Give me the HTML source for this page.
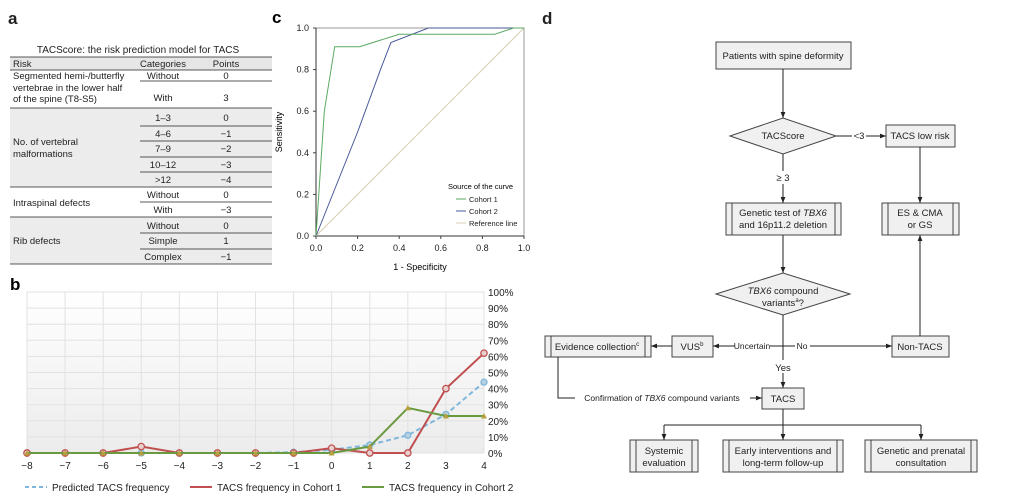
<!DOCTYPE html>
<html><head><meta charset="utf-8"><style>
body{margin:0;background:#fff}
svg{display:block;font-family:"Liberation Sans",Arial,sans-serif}
</style></head><body>
<svg id="s" width="1010" height="502" viewBox="0 0 1010 502" xmlns="http://www.w3.org/2000/svg">
<defs>
<linearGradient id="bg" x1="0" y1="0" x2="0" y2="1"><stop offset="0" stop-color="#fff"/><stop offset="1" stop-color="#ececec"/></linearGradient>
<marker id="ah" viewBox="0 0 10 10" refX="10" refY="5" markerWidth="6" markerHeight="6" orient="auto"><path d="M0,1L10,5L0,9z" fill="#222"/></marker>
</defs>

<!-- Panel a -->
<g font-size="9.5" fill="#222">
<text x="8" y="24" font-size="17" font-weight="bold">a</text>
<text x="138" y="53" text-anchor="middle" font-size="10">TACScore: the risk prediction model for TACS</text>
<rect x="10" y="57" width="262" height="13" fill="#e6e6e6"/>
<rect x="10" y="108" width="262" height="79" fill="#ececec"/>
<rect x="10" y="217" width="262" height="47" fill="#ececec"/>
<g stroke="#222" stroke-width="0.8">
<line x1="10" y1="57" x2="272" y2="57"/><line x1="10" y1="70" x2="272" y2="70"/>
<line x1="140" y1="81" x2="272" y2="81"/>
<line x1="10" y1="108" x2="272" y2="108"/>
<line x1="140" y1="126" x2="272" y2="126"/><line x1="140" y1="141" x2="272" y2="141"/><line x1="140" y1="157" x2="272" y2="157"/><line x1="140" y1="172" x2="272" y2="172"/>
<line x1="10" y1="187" x2="272" y2="187"/><line x1="140" y1="202" x2="272" y2="202"/>
<line x1="10" y1="217" x2="272" y2="217"/><line x1="140" y1="233" x2="272" y2="233"/><line x1="140" y1="249" x2="272" y2="249"/>
<line x1="10" y1="264" x2="272" y2="264"/>
</g>
<text x="13" y="67">Risk</text><text x="163" y="67" text-anchor="middle">Categories</text><text x="226" y="67" text-anchor="middle">Points</text>
<text x="13" y="79">Segmented hemi-/butterfly</text><text x="13" y="91">vertebrae in the lower half</text><text x="13" y="102">of the spine (T8-S5)</text>
<g text-anchor="middle">
<text x="163" y="79">Without</text><text x="226" y="79">0</text>
<text x="163" y="101">With</text><text x="226" y="101">3</text>
<text x="163" y="121">1–3</text><text x="226" y="121">0</text>
<text x="163" y="137">4–6</text><text x="226" y="137">−1</text>
<text x="163" y="152">7–9</text><text x="226" y="152">−2</text>
<text x="163" y="168">10–12</text><text x="226" y="168">−3</text>
<text x="163" y="183">&gt;12</text><text x="226" y="183">−4</text>
<text x="163" y="198">Without</text><text x="226" y="198">0</text>
<text x="163" y="213">With</text><text x="226" y="213">−3</text>
<text x="163" y="229">Without</text><text x="226" y="229">0</text>
<text x="163" y="244">Simple</text><text x="226" y="244">1</text>
<text x="163" y="260">Complex</text><text x="226" y="260">−1</text>
</g>
<text x="13" y="145">No. of vertebral</text><text x="13" y="157">malformations</text>
<text x="13" y="206">Intraspinal defects</text>
<text x="13" y="244">Rib defects</text>
</g>

<!-- Panel b -->
<g id="pb">
<text x="10" y="290" font-size="17" font-weight="bold">b</text>
<rect x="27" y="292" width="457" height="161" fill="url(#bg)"/>
</g>

<!-- Panel c -->
<g id="pc">
<text x="272" y="23" font-size="17" font-weight="bold">c</text>
<rect x="316" y="28" width="208" height="208" fill="none" stroke="#999" stroke-width="1"/>
<text x="282" y="132" font-size="9" text-anchor="middle" transform="rotate(-90 282 132)">Sensitivity</text>
<text x="420" y="270" font-size="9" text-anchor="middle">1 - Specificity</text>
<text x="448" y="189" font-size="7.5">Source of the curve</text>
</g>

<!-- Panel d -->
<g font-size="9.5" fill="#222" text-anchor="middle">
<text x="542" y="24" font-size="17" font-weight="bold" text-anchor="start">d</text>
<g fill="#f0f0f0" stroke="#444" stroke-width="1">
<rect x="716" y="42" width="135" height="27"/>
<polygon points="730,136 783,118 836,136 783,154"/>
<rect x="886" y="125" width="69" height="22"/>
<rect x="882" y="203" width="77" height="32"/>
<rect x="726" y="203" width="115" height="32"/>
<polygon points="716,294 783,273 850,294 783,315"/>
<rect x="672" y="336" width="41" height="21"/>
<rect x="545" y="336" width="106" height="21"/>
<rect x="892" y="336" width="57" height="21"/>
<rect x="762" y="388" width="42" height="21"/>
<rect x="630" y="440" width="68" height="32"/>
<rect x="723" y="440" width="120" height="32"/>
<rect x="865" y="440" width="112" height="32"/>
</g>
<g stroke="#444" stroke-width="1" fill="none">
<path d="M888,203V235M953,203V235M732,203V235M835,203V235M551,336V357M645,336V357M636,440V472M692,440V472M729,440V472M837,440V472M871,440V472M971,440V472"/>
</g>
<g stroke="#222" stroke-width="1" fill="none">
<line x1="783" y1="69" x2="783" y2="118" marker-end="url(#ah)"/>
<line x1="836" y1="136" x2="886" y2="136" marker-end="url(#ah)"/>
<line x1="920" y1="147" x2="920" y2="203" marker-end="url(#ah)"/>
<line x1="783" y1="154" x2="783" y2="171"/><line x1="783" y1="184" x2="783" y2="203" marker-end="url(#ah)"/>
<line x1="783" y1="235" x2="783" y2="273" marker-end="url(#ah)"/>
<line x1="783" y1="315" x2="783" y2="360"/><line x1="783" y1="373" x2="783" y2="388" marker-end="url(#ah)"/>
<line x1="735" y1="346" x2="713" y2="346" marker-end="url(#ah)"/>
<line x1="770" y1="346" x2="795" y2="346"/>
<line x1="810" y1="346" x2="892" y2="346" marker-end="url(#ah)"/>
<line x1="672" y1="346" x2="651" y2="346" marker-end="url(#ah)"/>
<line x1="920" y1="336" x2="920" y2="235" marker-end="url(#ah)"/>
<path d="M558,357V398H575"/>
<line x1="750" y1="398" x2="762" y2="398" marker-end="url(#ah)"/>
<path d="M783,409V425M664,425H921"/>
<line x1="664" y1="425" x2="664" y2="440" marker-end="url(#ah)"/>
<line x1="783" y1="425" x2="783" y2="440" marker-end="url(#ah)"/>
<line x1="921" y1="425" x2="921" y2="440" marker-end="url(#ah)"/>
</g>
<rect x="852" y="131" width="14" height="10" fill="#fff"/>
<text x="859" y="139">&lt;3</text>
<text x="783" y="59">Patients with spine deformity</text>
<text x="783" y="139">TACScore</text>
<text x="920" y="139">TACS low risk</text>
<text x="920" y="216">ES &amp; CMA</text><text x="920" y="228">or GS</text>
<text x="783" y="181">≥ 3</text>
<text x="783" y="216">Genetic test of <tspan font-style="italic">TBX6</tspan></text>
<text x="783" y="228">and 16p11.2 deletion</text>
<text x="783" y="294"><tspan font-style="italic">TBX6</tspan> compound</text>
<text x="783" y="306">variants<tspan font-size="6" dy="-4">a</tspan><tspan dy="4">?</tspan></text>
<text x="752" y="349" font-size="8.5">Uncertain</text>
<text x="802" y="349" font-size="8.5">No</text>
<text x="692" y="350">VUS<tspan font-size="6" dy="-4">b</tspan></text>
<text x="597" y="350">Evidence collection<tspan font-size="6" dy="-4">c</tspan></text>
<text x="920" y="350">Non-TACS</text>
<text x="783" y="371">Yes</text>
<text x="783" y="402">TACS</text>
<text x="662" y="401" font-size="8.5">Confirmation of <tspan font-style="italic">TBX6</tspan> compound variants</text>
<text x="664" y="454">Systemic</text><text x="664" y="466">evaluation</text>
<text x="783" y="454">Early interventions and</text><text x="783" y="466">long-term follow-up</text>
<text x="921" y="454">Genetic and prenatal</text><text x="921" y="466">consultation</text>
</g>
</svg>
<script>
// ---- Panel b data ----
const bScores = [-8,-7,-6,-5,-4,-3,-2,-1,0,1,2,3,4];
const bPredicted = [0,0,0,0,0,0,0,0.5,2,5,11,24,44];
const bCohort1 = [0,0,0,4,0,0,0,0,3,0,0,40,62];
const bCohort2 = [0,0,0,0,0,0,0,0,0,4,28,23,23];
const bYTicks = [0,10,20,30,40,50,60,70,80,90,100];
// ---- Panel c data ----
const cCohort1X = [0,0.04,0.09,0.21,0.4,0.86,0.95,1];
const cCohort1Y = [0,0.6,0.91,0.91,0.97,0.97,1,1];
const cCohort2X = [0,0.2,0.31,0.36,0.54,1];
const cCohort2Y = [0,0.5,0.8,0.93,1,1];
const cTicks = [0,0.2,0.4,0.6,0.8,1];

const NS='http://www.w3.org/2000/svg';
function mk(parent,tag,attrs,text){const e=document.createElementNS(NS,tag);for(const k in attrs)e.setAttribute(k,attrs[k]);if(text!==undefined)e.textContent=text;parent.appendChild(e);return e;}

// Panel b
const pb=document.getElementById('pb');
const bx=v=>27+(v+8)*(457/12);
const by=v=>453-v*1.61;
bYTicks.forEach(t=>{
  const l=mk(pb,'line',{x1:27,x2:484,y1:by(t),y2:by(t),stroke:'#e2e2e2','stroke-width':1});
  
  
  const tx=mk(pb,'text',{x:488,y:by(t)+4,'font-size':10,fill:'#222'},t+'%');
  
  
});
bScores.forEach(s=>{
  const l=mk(pb,'line',{x1:bx(s),x2:bx(s),y1:292,y2:453,stroke:'#e2e2e2','stroke-width':1});
  
  
  const tx=mk(pb,'text',{x:bx(s),y:469,'font-size':10,'text-anchor':'middle',fill:'#222'},s<0?'−'+(-s):String(s));
  
  
});
function series(vals,color,dash,name,marker){
  const pts=vals.map((v,i)=>bx(bScores[i])+','+by(v)).join(' ');
  const pl=mk(pb,'polyline',{points:pts,fill:'none',stroke:color,'stroke-width':2,'stroke-dasharray':dash||'none'});
  
  
  vals.forEach((v,i)=>{
    let m;
    if(marker==='tri'){const x=bx(bScores[i]),y=by(v);m=mk(pb,'polygon',{points:`${x-3},${y+2.5} ${x+3},${y+2.5} ${x},${y-3}`,fill:'#b8a040'});}
    else m=mk(pb,'circle',{cx:bx(bScores[i]),cy:by(v),r:marker==='ring'?3.2:3,fill:marker==='ring'?'#e8d0d0':'#b8cfe0',stroke:color,'stroke-width':1.3});
    
    
  });
}
series(bPredicted,'#7fb7dc','5,3','predicted','dot');
series(bCohort1,'#c05050',null,'cohort1','ring');
series(bCohort2,'#6a9a40',null,'cohort2','tri');
// legend b
[[25,'#7fb7dc','4,3','Predicted TACS frequency','legend-predicted'],[190,'#c05050','none','TACS frequency in Cohort 1','legend-cohort1'],[362,'#6a9a40','none','TACS frequency in Cohort 2','legend-cohort2']].forEach(d=>{
  const l=mk(pb,'line',{x1:d[0],x2:d[0]+22,y1:487,y2:487,stroke:d[1],'stroke-width':2,'stroke-dasharray':d[2]});
  
  
  const t=mk(pb,'text',{x:d[0]+27,y:491,'font-size':10,fill:'#222'},d[3]);
  
  
});

// Panel c
const pc=document.getElementById('pc');
const cx=v=>316+v*208, cy=v=>236-v*208;
cTicks.forEach(t=>{
  const a=mk(pc,'text',{x:cx(t),y:251,'font-size':9,'text-anchor':'middle',fill:'#222'},t.toFixed(1));
  
  
  const b=mk(pc,'text',{x:309,y:cy(t)+3,'font-size':9,'text-anchor':'end',fill:'#222'},t.toFixed(1));
  
  
  const k=mk(pc,'line',{x1:cx(t),x2:cx(t),y1:236,y2:239,stroke:'#444'});
  
  
  const k2=mk(pc,'line',{x1:313,x2:316,y1:cy(t),y2:cy(t),stroke:'#444'});
  
  
});
const ax=mk(pc,'path',{d:'M316,28V236H524',fill:'none',stroke:'#333','stroke-width':1});


const ref=mk(pc,'line',{x1:cx(0),y1:cy(0),x2:cx(1),y2:cy(1),stroke:'#d8cfb0','stroke-width':1});


const c2=mk(pc,'polyline',{points:cCohort2X.map((x,i)=>cx(x)+','+cy(cCohort2Y[i])).join(' '),fill:'none',stroke:'#4a5a9a','stroke-width':1});


const c1=mk(pc,'polyline',{points:cCohort1X.map((x,i)=>cx(x)+','+cy(cCohort1Y[i])).join(' '),fill:'none',stroke:'#5aaa60','stroke-width':1});


[[199,'#5aaa60','Cohort 1','legend-cohort1-roc'],[211,'#4a5a9a','Cohort 2','legend-cohort2-roc'],[223,'#d8cfb0','Reference line','legend-reference']].forEach(d=>{
  const l=mk(pc,'line',{x1:456,x2:466,y1:d[0],y2:d[0],stroke:d[1],'stroke-width':1});
  
  
  const t=mk(pc,'text',{x:469,y:d[0]+3,'font-size':7.5,fill:'#222'},d[2]);
  
  
});
</script>
</body></html>
